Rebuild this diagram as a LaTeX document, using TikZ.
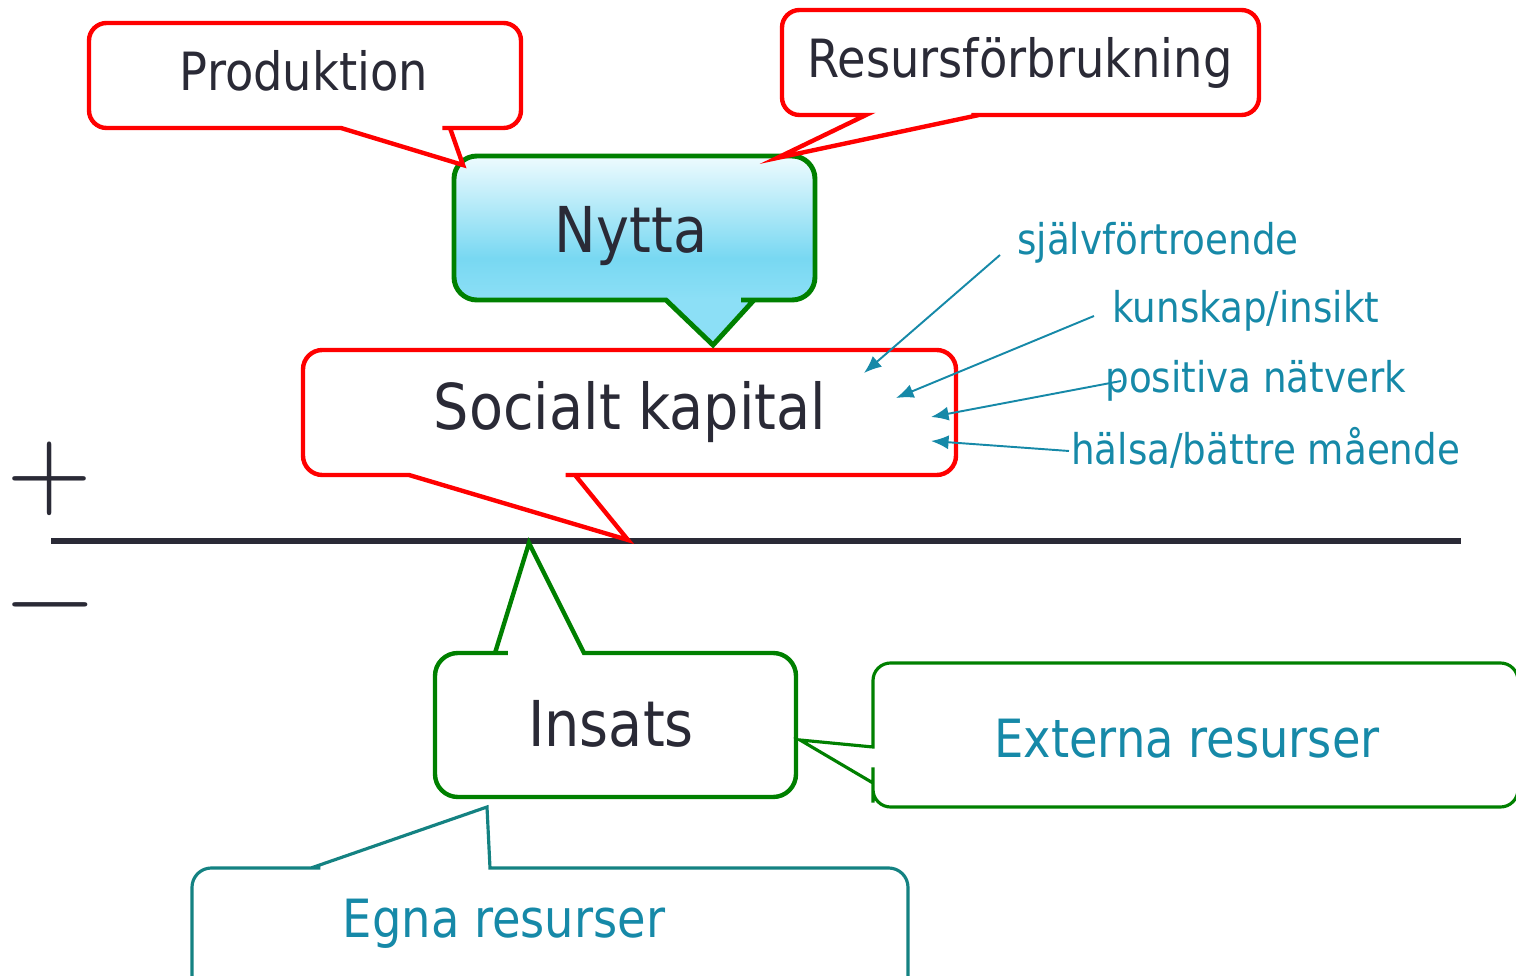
\documentclass[tikz,border=0pt]{standalone}
\usepackage{fontspec}
\setmainfont{DejaVu Sans}[FakeStretch=0.88]
\usetikzlibrary{arrows.meta, calc}

\definecolor{boxred}{RGB}{255,0,0}
\definecolor{boxgreen}{RGB}{0,128,0}
\definecolor{boxteal}{RGB}{20,130,130}
\definecolor{txtdark}{RGB}{42,42,54}
\definecolor{txtteal}{RGB}{22,137,168}
\definecolor{nyttatop}{RGB}{238,251,254}
\definecolor{nyttamid}{RGB}{120,216,242}
\definecolor{nyttalow}{RGB}{140,223,246}

\pgfdeclareverticalshading{nyttashade}{100bp}{color(0bp)=(nyttalow); color(37bp)=(nyttalow); color(48bp)=(nyttamid); color(75bp)=(nyttatop); color(100bp)=(nyttatop)}

\tikzset{
  bigtext/.style={font=\fontsize{36}{40}\selectfont, text=txtdark, inner sep=0pt},
  midtext/.style={font=\fontsize{30}{34}\selectfont, text=txtdark, inner sep=0pt},
  smalltext/.style={font=\fontsize{24.1}{26}\selectfont, text=txtteal, inner sep=0pt},
  redcall/.style={draw=boxred, line width=2.5pt, fill=white},
  greencall/.style={draw=boxgreen, line width=2.8pt},
  thincall/.style={draw=boxgreen, line width=1.8pt, fill=white},
  tealcall/.style={draw=boxteal, line width=1.8pt, fill=white},
  pointer/.style={draw=txtteal, line width=1.1pt, -{Latex[length=10pt,width=8pt]}},
}

\begin{document}
\begin{tikzpicture}[x=0.02cm, y=-0.02cm]
    \useasboundingbox (0,0) rectangle (1516,976);
    \clip (0,0) rectangle (1516,976);

    % plus / minus axis
    \draw[line width=3.7pt, txtdark] (51,541) -- (1461,541);
    \node[scale=6.3, text=txtdark] (plus) at (50,479) {$+$};
    \node[xscale=7, yscale=6.3, text=txtdark] (minus) at (50,605) {$-$};

    % callouts
    \draw[redcall, rounded corners=11pt] (630,350) -- (956,350) -- (956,475) -- (585,475) [sharp corners] -- (575,475) -- (628,540) -- (409,475) -- (399,475) [rounded corners=11pt] -- (303,475) -- (303,350) -- cycle;
    \draw[greencall, shade, shading=nyttashade, rounded corners=13pt] (630,156) -- (815,156) -- (815,300) -- (764,300) [sharp corners] -- (754,300) -- (713,345) -- (666,300) -- (656,300) [rounded corners=13pt] -- (454,300) -- (454,156) -- cycle;
    \draw[redcall, rounded corners=10pt] (300,23) -- (521,23) -- (521,128) -- (460,128) [sharp corners] -- (450,128) -- (463,165) -- (341,128) -- (331,128) [rounded corners=10pt] -- (89,128) -- (89,23) -- cycle;
    \draw[redcall, rounded corners=10pt] (1000,10) -- (1259,10) -- (1259,115) -- (989,115) [sharp corners] -- (979,115) -- (777,158) -- (866,115) -- (856,115) [rounded corners=10pt] -- (782,115) -- (782,10) -- cycle;
    \draw[greencall, fill=white, line width=2.5pt, rounded corners=13pt] (700,653) -- (796,653) -- (796,797) -- (435,797) -- (435,653) -- (485,653) [sharp corners] -- (495,653) -- (529,543) -- (584,653) -- (594,653) [rounded corners=13pt] -- cycle;
    \draw[thincall, rounded corners=10pt] (1100,663) -- (1518,663) -- (1518,807) -- (873,807) -- (873,785) [sharp corners] -- (873,783) -- (800,740) -- (873,747) -- (873,737) [rounded corners=10pt] -- (873,663) -- cycle;
    \draw[tealcall, rounded corners=11pt] (700,868) -- (908,868) -- (908,1000) -- (192,1000) -- (192,868) -- (301,868) [sharp corners] -- (311,868) -- (487,807) -- (490,868) -- (500,868) [rounded corners=11pt] -- cycle;

    % texts
    \node[midtext, anchor=base] (prod) at (304,91) {Produktion};
    \node[midtext, anchor=base] (resurs) at (1020,78) {Resursförbrukning};
    \node[bigtext, anchor=base] (nytta) at (631,253) {Nytta};
    \node[bigtext, anchor=base] (social) at (630,430) {Socialt kapital};
    \node[bigtext, anchor=base] (insats) at (611,746) {Insats};
    \node[midtext, anchor=base, text=txtteal] (externa) at (1187,757) {Externa resurser};
    \node[midtext, anchor=base, text=txtteal] (egna) at (504,937) {Egna resurser};

    \node[smalltext, anchor=base west] (sjalv) at (1017,255) {självförtroende};
    \node[smalltext, anchor=base west] (kunskap) at (1112,323) {kunskap/insikt};
    \node[smalltext, anchor=base west] (natverk) at (1105,393) {positiva nätverk};
    \node[smalltext, anchor=base west] (halsa) at (1071,465) {hälsa/bättre mående};

    \coordinate (t1) at (864,373);
    \coordinate (t2) at (896,398);
    \coordinate (t3) at (931,417);
    \coordinate (t4) at (931,441);

    \draw[pointer] ($(sjalv.base west)+(-17,0)$) -- (t1);
    \draw[pointer] ($(kunskap.base west)+(-18,-7)$) -- (t2);
    \draw[pointer] ($(natverk.base west)+(16,-12)$) -- (t3);
    \draw[pointer] ($(halsa.base west)+(-2,-14)$) -- (t4);
\end{tikzpicture}
\end{document}
